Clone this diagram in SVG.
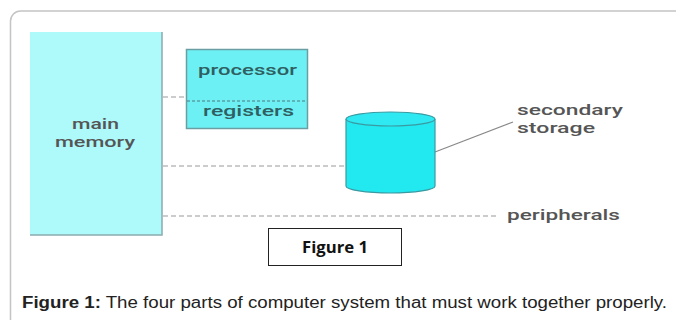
<svg xmlns="http://www.w3.org/2000/svg" width="676" height="320" viewBox="0 0 676 320">
<style>
.lbl{font-family:Roboto,"Liberation Sans",sans-serif;font-size:15px;font-weight:500;fill:#555}
.cpu{font-family:Roboto,"Liberation Sans",sans-serif;font-size:15px;font-weight:500;fill:#2f5f62}
.dash{stroke:#999;stroke-width:1;stroke-dasharray:5 3;fill:none}
</style>
<rect width="676" height="320" fill="#fff"/>
<path d="M10.5 320 V21 A10 10 0 0 1 20.5 11 H676" fill="none" stroke="#c4c4c4" stroke-width="1.5"/>
<g id="connectors">
<line class="dash" x1="163" y1="97" x2="186" y2="97"/>
<line class="dash" x1="163" y1="166" x2="346" y2="166"/>
<line class="dash" x1="163" y1="216" x2="498" y2="216"/>
<line x1="435" y1="152" x2="513" y2="122" stroke="#888" stroke-width="1.2"/>
</g>
<g id="main-memory">
<rect x="30" y="32" width="132" height="203" fill="#aef9fa"/>
<path d="M162 32 V235 H30" fill="none" stroke="#8aaab0" stroke-width="1.5"/>
<text class="lbl" x="72" y="129" textLength="47" lengthAdjust="spacingAndGlyphs">main</text>
<text class="lbl" x="55" y="147" textLength="80" lengthAdjust="spacingAndGlyphs">memory</text>
</g>
<g id="processor">
<rect x="186.5" y="49.5" width="121" height="79" fill="#6cf0f3" stroke="#6a9ea3" stroke-width="1.5"/>
<line x1="187" y1="101" x2="307" y2="101" stroke="#4a7a80" stroke-width="1" stroke-dasharray="3 2"/>
<text class="cpu" x="198" y="75" textLength="99" lengthAdjust="spacingAndGlyphs">processor</text>
<text class="cpu" x="203" y="116" textLength="91" lengthAdjust="spacingAndGlyphs">registers</text>
</g>
<g id="secondary-storage">
<path d="M346 119 V186 A44.5 7 0 0 0 435 186 V119" fill="#22e8f0" stroke="#3a9aa2" stroke-width="1.2"/>
<ellipse cx="390.5" cy="119" rx="44.5" ry="7" fill="#2ee9f1" stroke="#3a9aa2" stroke-width="1.2"/>
<text class="lbl" x="517" y="115" textLength="106" lengthAdjust="spacingAndGlyphs">secondary</text>
<text class="lbl" x="517" y="133" textLength="78" lengthAdjust="spacingAndGlyphs">storage</text>
</g>
<g id="peripherals">
<text class="lbl" x="507" y="220" textLength="113" lengthAdjust="spacingAndGlyphs">peripherals</text>
</g>
<g id="figure-box">
<rect x="268.5" y="228.5" width="133" height="37" fill="#fff" stroke="#222" stroke-width="1"/>
<text x="302" y="253" textLength="66" lengthAdjust="spacingAndGlyphs" font-family="'Open Sans','Liberation Sans',sans-serif" font-weight="bold" font-size="16" fill="#111">Figure 1</text>
</g>
<text x="22" y="308" textLength="645" lengthAdjust="spacingAndGlyphs" font-family="'Liberation Sans',Arial,sans-serif" font-size="16" fill="#222"><tspan font-weight="bold">Figure 1:</tspan> The four parts of computer system that must work together properly.</text>
</svg>
